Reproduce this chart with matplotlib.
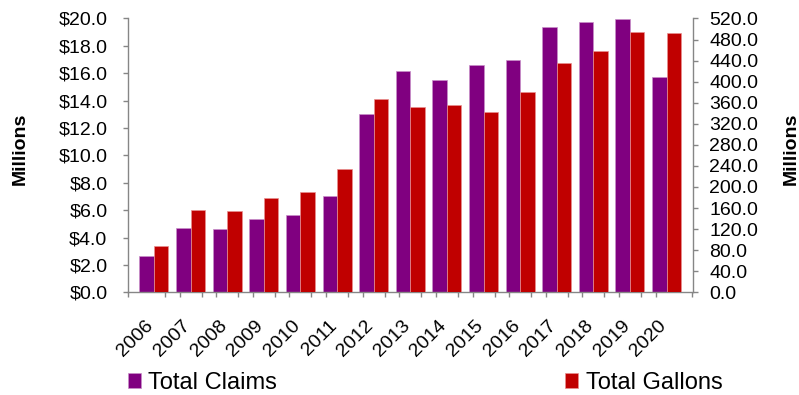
import matplotlib
matplotlib.use("Agg")
import matplotlib.pyplot as plt
import numpy as np
from matplotlib.ticker import FuncFormatter, MultipleLocator

# Annual totals
years = ["2006", "2007", "2008", "2009", "2010", "2011", "2012", "2013",
         "2014", "2015", "2016", "2017", "2018", "2019", "2020"]
total_claims = [2.63, 4.73, 4.66, 5.39, 5.68, 7.00, 13.00, 16.16,
                15.50, 16.58, 16.94, 19.38, 19.72, 19.99, 15.72]   # $ millions
total_gallons = [87.5, 157, 155, 180, 190, 234, 368, 352,
                 355, 342, 380, 435, 459, 495, 493]               # millions of gallons

claims_color = "#800080"
gallons_color = "#C00000"
axis_gray = "#868686"

plt.rcParams["font.family"] = ["Liberation Sans", "DejaVu Sans"]

fig = plt.figure(figsize=(7.99, 3.95), dpi=100)
ax = fig.add_axes([0.1602, 0.26, 0.8673 - 0.1602, 0.9532 - 0.26])
ax2 = ax.twinx()

x = np.arange(len(years))
w = 0.396
b1 = ax.bar(x - w / 2, total_claims, width=w, color=claims_color,
            edgecolor="#c890c8", linewidth=0.5, label="Total Claims", zorder=2)
b2 = ax2.bar(x + w / 2, total_gallons, width=w, color=gallons_color,
             edgecolor="#e89090", linewidth=0.5, label="Total Gallons", zorder=2)

ax.set_xlim(-0.71, 14.72)
ax.set_ylim(0, 20)
ax2.set_ylim(0, 520)

ax.yaxis.set_major_locator(MultipleLocator(2))
ax.yaxis.set_major_formatter(FuncFormatter(lambda v, p: f"${v:.1f}"))
ax2.yaxis.set_major_locator(MultipleLocator(40))
ax2.yaxis.set_major_formatter(FuncFormatter(lambda v, p: f"{v:.1f}"))

# year labels under the bar pairs, category boundary ticks as minor ticks
ax.set_xticks(x - 0.08)
ax.set_xticklabels(years, rotation=45, ha="right", va="center",
                   rotation_mode="anchor", fontsize=14)
ax.set_xticks(np.concatenate([x - 0.7, x + 0.7]), minor=True)
ax.tick_params(axis="x", which="major", length=0, pad=22)
ax.tick_params(axis="x", which="minor", length=3.8, width=1, color=axis_gray,
               direction="out")

ax.tick_params(axis="y", length=3.8, width=1, color=axis_gray, labelsize=14,
               pad=11)
ax2.tick_params(axis="y", length=3.8, width=1, color=axis_gray, labelsize=14,
                pad=8)

for a in (ax, ax2):
    a.spines["top"].set_visible(False)
    for s in ("left", "right", "bottom"):
        a.spines[s].set_color(axis_gray)
        a.spines[s].set_linewidth(1)
ax.spines["right"].set_visible(False)
ax2.spines["left"].set_visible(False)
ax2.spines["bottom"].set_visible(False)

fig.text(20 / 799, 1 - 149 / 395, "Millions", rotation=90, ha="center",
         va="center", fontsize=14, fontweight="bold")
fig.text(791 / 799, 1 - 149 / 395, "Millions", rotation=90, ha="center",
         va="center", fontsize=14, fontweight="bold")

fig.legend(handles=[b1, b2], labels=["Total Claims", "Total Gallons"],
           loc="center left", bbox_to_anchor=(128 / 799, 1 - 383 / 395),
           ncol=2, frameon=False, fontsize=17, handlelength=0.56,
           handleheight=0.56, handletextpad=0.3, columnspacing=12.2,
           borderpad=0, borderaxespad=0)

fig.savefig("out.png", dpi=100)
